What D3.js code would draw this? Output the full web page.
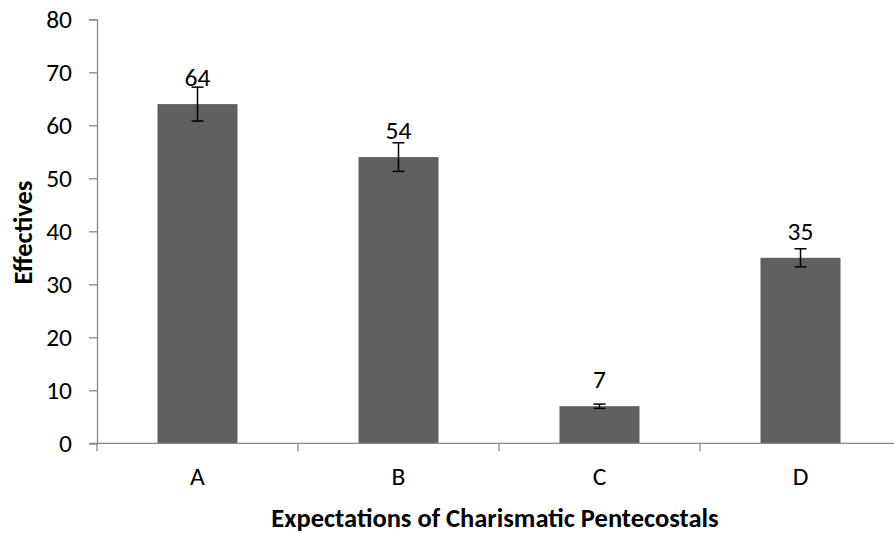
<!DOCTYPE html>
<html><head><meta charset="utf-8">
<script src="https://cdn.jsdelivr.net/npm/d3@7"></script>
<style>body{margin:0;background:#fff}svg{display:block}text{font-family:Carlito,Lato,"Open Sans",sans-serif}</style>
</head><body><svg id="c" width="894" height="533"></svg>
<script>
const categories = ["A","B","C","D"];
const values = [64,54,7,35];
const errors = [3.2,2.7,0.4,1.7];
const yTicks = [0,10,20,30,40,50,60,70,80];

(function(){
const svg = d3.select("#c");
const x0 = 97, bandW = 201, plotTop = 19.3, plotBottom = 443.3;
const x = d3.scaleBand().domain(categories).range([x0, x0 + bandW*4]).paddingInner(0.602).paddingOuter(0.301);
const y = d3.scaleLinear().domain([0,80]).range([plotBottom, plotTop]);
const axisCol = "#898989";
const fs = 25.5;

// bars
svg.selectAll("rect.bar").data(values).enter().append("rect")
  .attr("x",(d,i)=>x(categories[i])).attr("width",x.bandwidth())
  .attr("y",d=>y(d)).attr("height",d=>plotBottom-y(d)).attr("fill","#606060");

// y axis
const ya = svg.append("g").attr("transform",`translate(${x0},0)`)
  .call(d3.axisLeft(y).tickValues(yTicks).tickSize(8).tickPadding(17));
ya.attr("font-family",null).attr("font-size",null);
ya.select(".domain").attr("stroke",axisCol).attr("stroke-width",1.3);
ya.selectAll(".tick line").attr("stroke",axisCol).attr("stroke-width",1.3);
ya.selectAll("text").attr("font-size",fs).attr("fill","#000");

// x axis
const xb = d3.scaleLinear().domain([0,4]).range([x0, x0+bandW*4]);
svg.append("line").attr("x1",x0-8).attr("x2",x0+bandW*4).attr("y1",plotBottom).attr("y2",plotBottom)
  .attr("stroke",axisCol).attr("stroke-width",1.3);
svg.selectAll("line.xt").data([0,1,2,3,4]).enter().append("line")
  .attr("x1",d=>xb(d)).attr("x2",d=>xb(d)).attr("y1",plotBottom).attr("y2",plotBottom+8)
  .attr("stroke",axisCol).attr("stroke-width",1.3);
svg.selectAll("text.xl").data(categories).enter().append("text")
  .attr("x",d=>x(d)+x.bandwidth()/2).attr("y",485).attr("text-anchor","middle")
  .attr("font-size",fs).text(d=>d);

// error bars
const eb = svg.append("g").attr("stroke","#000").attr("stroke-width",1.5);
values.forEach((v,i)=>{
  const cx = x(categories[i])+x.bandwidth()/2;
  eb.append("line").attr("x1",cx).attr("x2",cx).attr("y1",y(v+errors[i])).attr("y2",y(v-errors[i]));
  [v+errors[i], v-errors[i]].forEach(e=>{
    eb.append("line").attr("x1",cx-6).attr("x2",cx+6).attr("y1",y(e)).attr("y2",y(e));
  });
});

// value labels
svg.selectAll("text.vl").data(values).enter().append("text")
  .attr("x",(d,i)=>x(categories[i])+x.bandwidth()/2).attr("y",d=>y(d)-18)
  .attr("text-anchor","middle").attr("font-size",fs).text(d=>d);

// titles
svg.append("text").attr("x",495).attr("y",526.5).attr("text-anchor","middle")
  .attr("font-size",26.5).attr("font-weight","bold").text("Expectations of Charismatic Pentecostals");
svg.append("text").attr("transform","translate(32,232.5) rotate(-90)").attr("text-anchor","middle")
  .attr("font-size",26.5).attr("font-weight","bold").text("Effectives");
})();
</script></body></html>
